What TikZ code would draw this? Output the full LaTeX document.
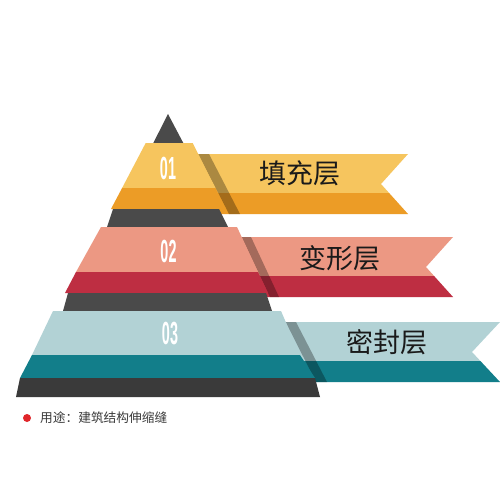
\documentclass[tikz,border=0pt]{standalone}
\usepackage{fontspec}
\setmainfont{Liberation Sans}
\newfontfamily\cjk{Noto Sans CJK SC}
\definecolor{darkA}{HTML}{4A4A4A}
\definecolor{darkB}{HTML}{3A3A3A}
\definecolor{yelL}{HTML}{F6C55E}
\definecolor{yelD}{HTML}{EC9C26}
\definecolor{pinkL}{HTML}{EC9883}
\definecolor{pinkD}{HTML}{BE2E42}
\definecolor{tealL}{HTML}{B2D2D5}
\definecolor{tealD}{HTML}{127E8A}
\definecolor{txt}{HTML}{1A1A1A}
\definecolor{dotred}{HTML}{E0262A}
\tikzset{
  shadowstrip/.style={fill=black,fill opacity=0.3},
  numlabel/.style={text=white,inner sep=0pt,font=\bfseries\fontsize{32}{32}\selectfont},
  ribbonlabel/.style={text=txt,inner sep=0pt,font=\cjk\fontsize{27}{27}\selectfont},
}
\begin{document}
\begin{tikzpicture}[x=1pt,y=-1pt]
\useasboundingbox[fill=white] (0,0) rectangle (500,500);

% ---------- ribbons (behind) ----------
% ribbon 1
\fill[yelL] (190,154) -- (408,154) -- (381,184) -- (389.1,193) -- (190,193) -- cycle;
\fill[yelD] (190,193) -- (389.1,193) -- (408,214) -- (190,214) -- cycle;
\fill[shadowstrip] (198,154) -- (209,154) -- (240,214) -- (229,214) -- cycle;
% ribbon 2
\fill[pinkL] (230,237) -- (453,237) -- (426,267) -- (434.1,276) -- (230,276) -- cycle;
\fill[pinkD] (230,276) -- (434.1,276) -- (453,297) -- (230,297) -- cycle;
\fill[shadowstrip] (241.7,237) -- (251,237) -- (279,297) -- (270,297) -- cycle;
% ribbon 3
\fill[tealL] (275,322) -- (500,322) -- (472,352) -- (480.4,361) -- (275,361) -- cycle;
\fill[tealD] (275,361) -- (480.4,361) -- (500,382) -- (275,382) -- cycle;
\fill[shadowstrip] (285.7,322) -- (296,322) -- (327,382) -- (316,382) -- cycle;

% ---------- pyramid ----------
\fill[darkA] (168,114) -- (183.3,143) -- (153.3,143) -- cycle;
\fill[yelL] (145.7,143) -- (192.7,143) -- (215.4,188) -- (122.1,188) -- cycle;
\fill[yelD] (122.1,188) -- (215.4,188) -- (226,209) -- (111,209) -- cycle;
\fill[darkA] (113,209) -- (219,209) -- (228,227) -- (107,227) -- cycle;
\fill[pinkL] (101,227) -- (237,227) -- (258,272) -- (76,272) -- cycle;
\fill[pinkD] (76,272) -- (258,272) -- (268,293) -- (65,293) -- cycle;
\fill[darkA] (68,293) -- (266,293) -- (272,311) -- (63,311) -- cycle;
\fill[tealL] (53,311) -- (281,311) -- (300,355) -- (32,355) -- cycle;
\fill[tealD] (32,355) -- (300,355) -- (315,378) -- (20,378) -- cycle;
\fill[darkB] (20,378) -- (315,378) -- (320,397) -- (16,397) -- cycle;

% ---------- numbers ----------
\node[numlabel] (n1) at (168,168.5) {\scalebox{0.45}[1]{01}};
\node[numlabel] (n2) at (168.5,251.5) {\scalebox{0.45}[1]{02}};
\node[numlabel] (n3) at (170,333.5) {\scalebox{0.45}[1]{03}};

% ---------- ribbon labels ----------
\node[ribbonlabel] (l1) at (300,173) {填充层};
\node[ribbonlabel] (l2) at (340,258) {变形层};
\node[ribbonlabel] (l3) at (387,342) {密封层};

% ---------- footer ----------
\fill[dotred] (27,418) circle (4);
\node[anchor=west,inner sep=0pt,text=darkB,font=\cjk\fontsize{12.7}{13}\selectfont] (foot) at (40,418) {用途：建筑结构伸缩缝};
\end{tikzpicture}
\end{document}
